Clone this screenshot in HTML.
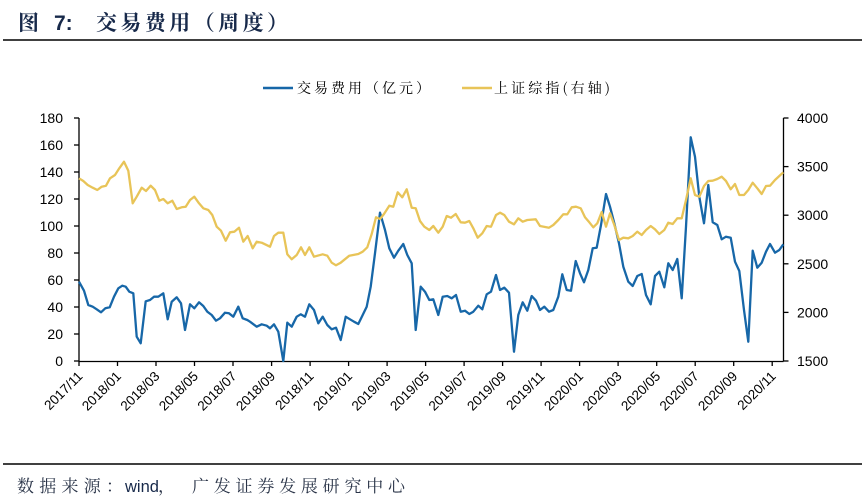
<!DOCTYPE html>
<html>
<head>
<meta charset="utf-8">
<style>
html,body{margin:0;padding:0;background:#fff;}
body{width:865px;height:504px;overflow:hidden;}
svg{display:block;}
</style>
</head>
<body>
<svg width="865" height="504" viewBox="0 0 865 504" xmlns="http://www.w3.org/2000/svg">
<rect width="865" height="504" fill="#fff"/>
<!-- Title -->
<text x="18" y="30" font-family="'Noto Serif CJK SC','Noto Sans CJK SC',serif" font-weight="bold" font-size="21" fill="#17294a">图</text>
<text x="54" y="30" font-family="'Liberation Sans',sans-serif" font-weight="bold" font-size="21" fill="#17294a">7:</text>
<text x="96" y="30" font-family="'Noto Serif CJK SC','Noto Sans CJK SC',serif" font-weight="bold" font-size="21" fill="#17294a" textLength="192" lengthAdjust="spacing">交易费用（周度）</text>
<line x1="3" y1="40" x2="862" y2="40" stroke="#000" stroke-width="1.5"/>

<!-- Legend -->
<line x1="263" y1="88" x2="293" y2="88" stroke="#1767a8" stroke-width="2.5"/>
<text x="297" y="93" font-family="'Noto Serif CJK SC','Noto Sans CJK SC',serif" font-size="14" fill="#000" textLength="133" lengthAdjust="spacing">交易费用（亿元）</text>
<line x1="462" y1="88" x2="492" y2="88" stroke="#e8c458" stroke-width="2.5"/>
<text x="494" y="93" font-family="'Noto Serif CJK SC','Noto Sans CJK SC',serif" font-size="14" fill="#000" textLength="116" lengthAdjust="spacing">上证综指(右轴)</text>

<!-- Axes -->
<g stroke="#000" stroke-width="1.3" fill="none">
<line x1="79" y1="118" x2="79" y2="361.5"/>
<line x1="783.5" y1="118" x2="783.5" y2="361.5"/>
<line x1="79" y1="361.5" x2="783.5" y2="361.5"/>
<!-- left ticks -->
<line x1="74" y1="118" x2="79" y2="118"/>
<line x1="74" y1="145" x2="79" y2="145"/>
<line x1="74" y1="172" x2="79" y2="172"/>
<line x1="74" y1="199" x2="79" y2="199"/>
<line x1="74" y1="226" x2="79" y2="226"/>
<line x1="74" y1="253" x2="79" y2="253"/>
<line x1="74" y1="280" x2="79" y2="280"/>
<line x1="74" y1="307" x2="79" y2="307"/>
<line x1="74" y1="334" x2="79" y2="334"/>
<line x1="74" y1="361" x2="79" y2="361"/>
<!-- right ticks -->
<line x1="783.5" y1="118" x2="788.5" y2="118"/>
<line x1="783.5" y1="166.6" x2="788.5" y2="166.6"/>
<line x1="783.5" y1="215.2" x2="788.5" y2="215.2"/>
<line x1="783.5" y1="263.8" x2="788.5" y2="263.8"/>
<line x1="783.5" y1="312.4" x2="788.5" y2="312.4"/>
<line x1="783.5" y1="361" x2="788.5" y2="361"/>
<!-- x ticks -->
<line x1="79" y1="361" x2="79" y2="366"/>
<line x1="117.5" y1="361" x2="117.5" y2="366"/>
<line x1="156" y1="361" x2="156" y2="366"/>
<line x1="194.5" y1="361" x2="194.5" y2="366"/>
<line x1="233" y1="361" x2="233" y2="366"/>
<line x1="271.6" y1="361" x2="271.6" y2="366"/>
<line x1="310.1" y1="361" x2="310.1" y2="366"/>
<line x1="348.6" y1="361" x2="348.6" y2="366"/>
<line x1="387.1" y1="361" x2="387.1" y2="366"/>
<line x1="425.6" y1="361" x2="425.6" y2="366"/>
<line x1="464.1" y1="361" x2="464.1" y2="366"/>
<line x1="502.6" y1="361" x2="502.6" y2="366"/>
<line x1="541.1" y1="361" x2="541.1" y2="366"/>
<line x1="579.6" y1="361" x2="579.6" y2="366"/>
<line x1="618.1" y1="361" x2="618.1" y2="366"/>
<line x1="656.7" y1="361" x2="656.7" y2="366"/>
<line x1="695.2" y1="361" x2="695.2" y2="366"/>
<line x1="733.7" y1="361" x2="733.7" y2="366"/>
<line x1="772.2" y1="361" x2="772.2" y2="366"/>
</g>

<!-- Left labels -->
<g font-family="'Liberation Sans',Arial,sans-serif" font-size="14" fill="#000" text-anchor="end">
<text x="63" y="123">180</text>
<text x="63" y="150">160</text>
<text x="63" y="177">140</text>
<text x="63" y="204">120</text>
<text x="63" y="231">100</text>
<text x="63" y="258">80</text>
<text x="63" y="285">60</text>
<text x="63" y="312">40</text>
<text x="63" y="339">20</text>
<text x="63" y="366">0</text>
</g>
<!-- Right labels -->
<g font-family="'Liberation Sans',Arial,sans-serif" font-size="14" fill="#000">
<text x="797" y="123">4000</text>
<text x="797" y="171.6">3500</text>
<text x="797" y="220.2">3000</text>
<text x="797" y="268.8">2500</text>
<text x="797" y="317.4">2000</text>
<text x="797" y="366">1500</text>
</g>
<!-- X labels -->
<g font-family="'Liberation Sans',Arial,sans-serif" font-size="13.5" fill="#000" text-anchor="end">
<text transform="translate(83.5,377) rotate(-45)">2017/11</text>
<text transform="translate(122,377) rotate(-45)">2018/01</text>
<text transform="translate(160.5,377) rotate(-45)">2018/03</text>
<text transform="translate(199,377) rotate(-45)">2018/05</text>
<text transform="translate(237.5,377) rotate(-45)">2018/07</text>
<text transform="translate(276.1,377) rotate(-45)">2018/09</text>
<text transform="translate(314.6,377) rotate(-45)">2018/11</text>
<text transform="translate(353.1,377) rotate(-45)">2019/01</text>
<text transform="translate(391.6,377) rotate(-45)">2019/03</text>
<text transform="translate(430.1,377) rotate(-45)">2019/05</text>
<text transform="translate(468.6,377) rotate(-45)">2019/07</text>
<text transform="translate(507.1,377) rotate(-45)">2019/09</text>
<text transform="translate(545.6,377) rotate(-45)">2019/11</text>
<text transform="translate(584.1,377) rotate(-45)">2020/01</text>
<text transform="translate(622.6,377) rotate(-45)">2020/03</text>
<text transform="translate(661.2,377) rotate(-45)">2020/05</text>
<text transform="translate(699.7,377) rotate(-45)">2020/07</text>
<text transform="translate(738.2,377) rotate(-45)">2020/09</text>
<text transform="translate(776.7,377) rotate(-45)">2020/11</text>
</g>

<!-- Blue series -->
<polyline fill="none" stroke="#1767a8" stroke-width="2.3" stroke-linejoin="round" points="79,281.7 84,290.7 88.3,305 92.7,306.7 96.7,309.3 101,312.3 105.3,308.3 109.7,307.3 114,296.7 118.3,288.3 122.3,285.7 125.7,286.7 129.3,291.7 133.3,293.3 136.7,336.7 140.7,343.3 145.7,301.3 150,300 154,296.7 158.3,296.7 163.3,293.3 167.7,319.3 171.7,301.7 176.7,297.3 181,303.3 185,330 190,304.3 194.3,308.3 199,302.3 203.3,306 207.3,311.7 211.7,315 216,320.7 220,318.3 225,312.7 229,313.3 233.3,316.7 238.3,306.7 242.7,318.3 247.3,320 250,321.7 256.7,326.7 261.7,324.3 266.7,325.7 270,328.3 274,324.3 278.3,331.7 283.3,361 287.3,322.7 291.7,326.7 296.7,316.7 300.7,314.3 305,316.7 309.3,304.3 314,310 318.3,323.3 322.7,316.7 327.3,325 331.7,329.3 336,327.7 340.7,340 345.7,316.7 350,319.3 354,321.7 358.3,324 362.7,315 366.7,306.7 370.7,286.7 375,253.3 380,212.7 385,230 389.3,248.3 394,257.7 398.3,250.7 403.3,244 407.3,255 411.7,263.3 415.7,330 420.7,286.7 425,291.7 429.3,300 433.3,299.3 438.3,315 442.7,296.7 447.3,296 451.7,298.3 456,295 460.7,311.7 465,310.7 469.3,314 473.3,311.7 478.3,305.7 482.3,309.3 486.7,294.3 491,291.7 496,275 500,290 504.3,287.7 509,292.7 514,351.7 518.3,315 522.7,302.3 527.3,310.7 531.7,296 536,300.7 540,310 544.3,306.7 549,311.7 553.3,310 558.3,296.7 562.3,274.3 566.7,290 571,290.7 575.7,261 580,273.3 584,282.3 588.3,270 592.7,248.3 596.7,247.7 601,225 606,194 610,206.7 614.3,223.3 619,243.3 623.3,266.7 628.3,281.7 632.7,286 637.3,276 641.7,274 646,295 650.7,304.3 655,276 659.3,271.7 664.3,287.3 668.3,263.3 672.7,270 677.3,259 681.7,298.3 686,226.7 690.7,137.3 695,156.7 699.3,196.7 704,223.3 708.3,185 712.7,222.3 717.3,225 721.7,239.3 726,236.7 730.7,237.7 735,261.7 739.3,271 744,310 748.3,341.7 752.7,250.7 757.3,267.7 761.7,262.7 766,251.7 770,244 775,252.7 779.3,250 783.3,244.3"/>

<!-- Yellow series -->
<polyline fill="none" stroke="#e8c458" stroke-width="2.3" stroke-linejoin="round" points="79,178.3 83.3,181 87.7,185 92.7,187.7 97.3,190 101.7,186.7 106,185.7 110,178.3 115,175 119.3,168.3 124,161.7 128.3,170.7 132.7,203.3 136.7,196.7 141.7,187.7 146,191 150.7,185.7 155,190 159.3,200.7 163.3,199 167.7,203.3 172.3,200.7 176.7,209 181.7,207.3 185.7,206.7 190,200 194.3,196.7 199,203.3 203.3,208.3 208.3,210 212.3,215 216.7,226.7 221,230.7 225.7,240.7 230,232.3 234.3,231.7 239,227.7 243.3,241.7 247.7,236 252.7,248.3 256.7,241.7 261.7,242.7 270,246.7 274,236 278.3,232.7 283.3,232.7 287.3,254.3 291.7,259.3 296.7,255 301,247.3 305,255 309.3,247.3 314,256.7 322.7,254.3 327.3,255.7 331.7,262.7 336,265.3 340.7,262.7 349.3,255.7 358.3,254 362.7,251.7 367.3,247.3 371.7,234 376,217.3 380,219 384,214 389.3,205.7 393.3,206.7 397.7,192.3 402.3,197.3 406.7,189.3 411.7,207.7 415.7,208.3 420,221 424.3,226.7 429.3,230 433.3,226 438.3,232.7 442.7,226.7 446.7,216 451,217.7 455.7,214 460.7,222.3 465,222.7 469.3,221 473.3,228.3 477.7,237.7 482.3,233.3 486.7,226 491,226.7 496,215 500,212.7 504.3,215 509,221.7 514,224.3 518.3,218.3 522.7,221.7 527.3,220 535.7,219.3 540,226 549,227.7 553.3,225 558.3,220 563.3,214.3 567.3,214.3 571.7,207.3 576,206.7 580.7,208.3 585,217.3 589.3,222.3 593.3,227.3 597.3,223.3 601.7,212 606,226.7 610,213.3 614.3,225 619,240 623.3,237.7 628.3,238.3 632.7,236 637.3,231.7 641.7,235 646,230 650.7,226 655,229.3 659.3,234 664.3,230 668.3,222.7 672.7,224 677.3,218.3 681.7,218.3 686,200 690.7,178.3 695,195 699.3,196.7 704,186 708.3,181 712.7,180.7 717.3,179 721.7,176.7 726,181 730.7,189.3 735,184 739.3,195 744,195 748.3,190 752.7,182.7 757.3,188.3 761.7,194 766,186 770,185.7 775,180 779.3,176 783.3,172.3"/>

<!-- Bottom source -->
<line x1="3" y1="464" x2="862" y2="464" stroke="#000" stroke-width="1.5"/>
<text x="17" y="492" font-family="'Noto Serif CJK SC','Noto Sans CJK SC',serif" font-size="17" fill="#2a3448" textLength="106" lengthAdjust="spacing">数据来源：</text>
<text x="125" y="492" font-family="'Liberation Sans',Arial,sans-serif" font-size="16.5" fill="#17294a">wind</text>
<text x="158" y="492" font-family="'Noto Serif CJK SC','Noto Sans CJK SC',serif" font-size="17" fill="#2a3448">，</text>
<text x="192" y="492" font-family="'Noto Serif CJK SC','Noto Sans CJK SC',serif" font-size="17" fill="#2a3448" textLength="213" lengthAdjust="spacing">广发证券发展研究中心</text>
</svg>
</body>
</html>
